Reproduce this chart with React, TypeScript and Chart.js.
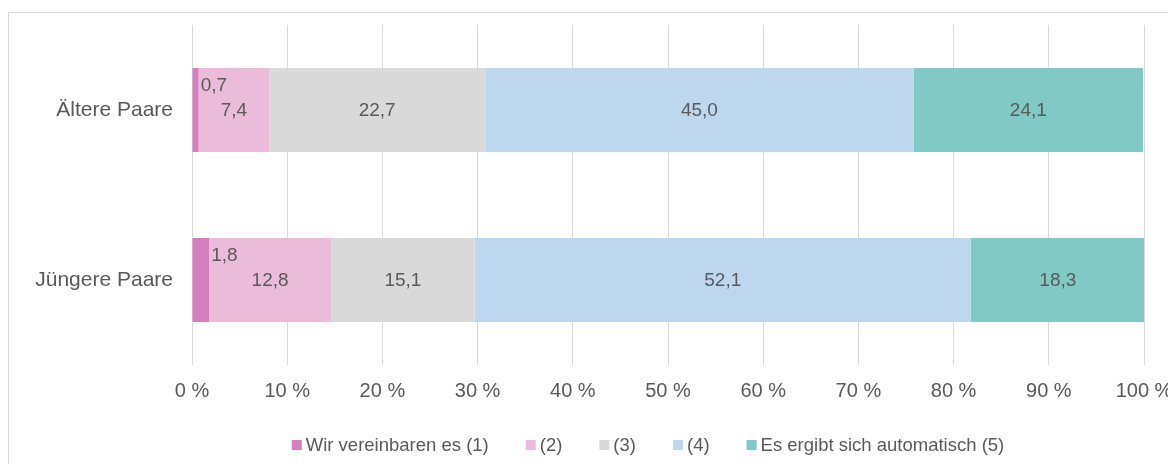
import React, { useEffect, useRef } from "react";
import { Chart, registerables } from "chart.js";

Chart.register(...registerables);

const categories = ["Ältere Paare", "Jüngere Paare"];
const seriesNames = ["Wir vereinbaren es (1)", "(2)", "(3)", "(4)", "Es ergibt sich automatisch (5)"];
const series1 = [0.7, 1.8];
const series2 = [7.4, 12.8];
const series3 = [22.7, 15.1];
const series4 = [45.0, 52.1];
const series5 = [24.1, 18.3];
const seriesColors = ["#D37FC0", "#EBBCDA", "#D9D9D9", "#BDD7EE", "#80C9C5"];
const xTickValues = [0, 10, 20, 30, 40, 50, 60, 70, 80, 90, 100];

const TEXT = "#595959";
const FONT = '"Liberation Sans", Arial, sans-serif';
const CANVAS_W = 1167;
const CANVAS_H = 451;
const PLOT_LEFT = 183;
const PLOT_BOTTOM = 352;
const LEGEND_CENTER_X = 639;
const LEGEND_Y = 432;

const fmt = (v: number) => v.toFixed(1).replace(".", ",");

const dataLabelPlugin = {
  id: "dataLabels",
  afterDatasetsDraw(chart: any) {
    const ctx = chart.ctx;
    ctx.save();
    ctx.font = `19px ${FONT}`;
    ctx.fillStyle = TEXT;
    ctx.textBaseline = "middle";
    chart.data.datasets.forEach((ds: any, di: number) => {
      const meta = chart.getDatasetMeta(di);
      meta.data.forEach((bar: any, i: number) => {
        const v = ds.data[i];
        const label = fmt(v);
        if (v < 5) {
          ctx.textAlign = "left";
          ctx.fillText(label, bar.x + 2, bar.y - 24);
        } else {
          ctx.textAlign = "center";
          ctx.fillText(label, (bar.x + bar.base) / 2, bar.y + 1);
        }
      });
    });
    ctx.restore();
  },
};

const legendPlugin = {
  id: "customLegend",
  afterDraw(chart: any) {
    const ctx = chart.ctx;
    ctx.save();
    ctx.font = `18.5px ${FONT}`;
    const box = 10;
    const textGap = 4;
    const itemGap = 37;
    const widths = seriesNames.map((n) => box + textGap + ctx.measureText(n).width);
    const total = widths.reduce((a, b) => a + b, 0) + itemGap * (seriesNames.length - 1);
    let x = LEGEND_CENTER_X - total / 2;
    ctx.textBaseline = "middle";
    ctx.textAlign = "left";
    seriesNames.forEach((n, i) => {
      ctx.fillStyle = seriesColors[i];
      ctx.fillRect(x, LEGEND_Y - box / 2, box, box);
      ctx.fillStyle = TEXT;
      ctx.fillText(n, x + box + textGap, LEGEND_Y + 1);
      x += widths[i] + itemGap;
    });
    ctx.restore();
  },
};

export default function App() {
  const ref = useRef<HTMLCanvasElement | null>(null);
  useEffect(() => {
    if (!ref.current) return;
    const allSeries = [series1, series2, series3, series4, series5];
    const chart = new Chart(ref.current, {
      type: "bar",
      data: {
        labels: categories,
        datasets: allSeries.map((d, i) => ({
          label: seriesNames[i],
          data: d,
          backgroundColor: seriesColors[i],
          borderWidth: 0,
          barPercentage: 0.494,
          categoryPercentage: 1,
        })),
      },
      options: {
        indexAxis: "y",
        animation: false,
        responsive: false,
        maintainAspectRatio: false,
        layout: { padding: { top: 12, right: 32, left: 0, bottom: 0 } },
        plugins: {
          legend: { display: false },
          tooltip: { enabled: false },
          title: { display: false },
        },
        scales: {
          x: {
            stacked: true,
            min: 0,
            max: 100,
            afterBuildTicks: (scale: any) => {
              scale.ticks = xTickValues.map((v) => ({ value: v }));
            },
            afterFit: (scale: any) => {
              scale.height = CANVAS_H - PLOT_BOTTOM;
              scale.paddingLeft = 0;
              scale.paddingRight = 0;
              scale.paddingTop = 0;
              scale.paddingBottom = 0;
            },
            grid: { color: "#D9D9D9", lineWidth: 1, drawTicks: false },
            border: { display: false },
            ticks: {
              padding: 14,
              color: TEXT,
              font: { family: FONT, size: 20 },
              callback: (v: any) => `${v} %`,
              maxRotation: 0,
            },
          },
          y: {
            stacked: true,
            afterFit: (scale: any) => {
              scale.width = PLOT_LEFT;
              scale.paddingLeft = 0;
              scale.paddingRight = 0;
              scale.paddingTop = 0;
              scale.paddingBottom = 0;
            },
            grid: { display: false, drawTicks: false },
            border: { display: false },
            ticks: {
              padding: 19,
              color: TEXT,
              font: { family: FONT, size: 21 },
            },
          },
        },
      },
      plugins: [dataLabelPlugin, legendPlugin],
    } as any);
    return () => chart.destroy();
  }, []);

  return (
    <div
      style={{
        marginTop: 4,
        width: 1168,
        height: 452,
        overflow: "hidden",
        borderTop: "1px solid #D9D9D9",
        borderLeft: "1px solid #D9D9D9",
        boxSizing: "border-box",
        background: "#FFFFFF",
      }}
    >
      <canvas ref={ref} width={CANVAS_W} height={CANVAS_H} style={{ display: "block", width: CANVAS_W, height: CANVAS_H }} />
    </div>
  );
}
